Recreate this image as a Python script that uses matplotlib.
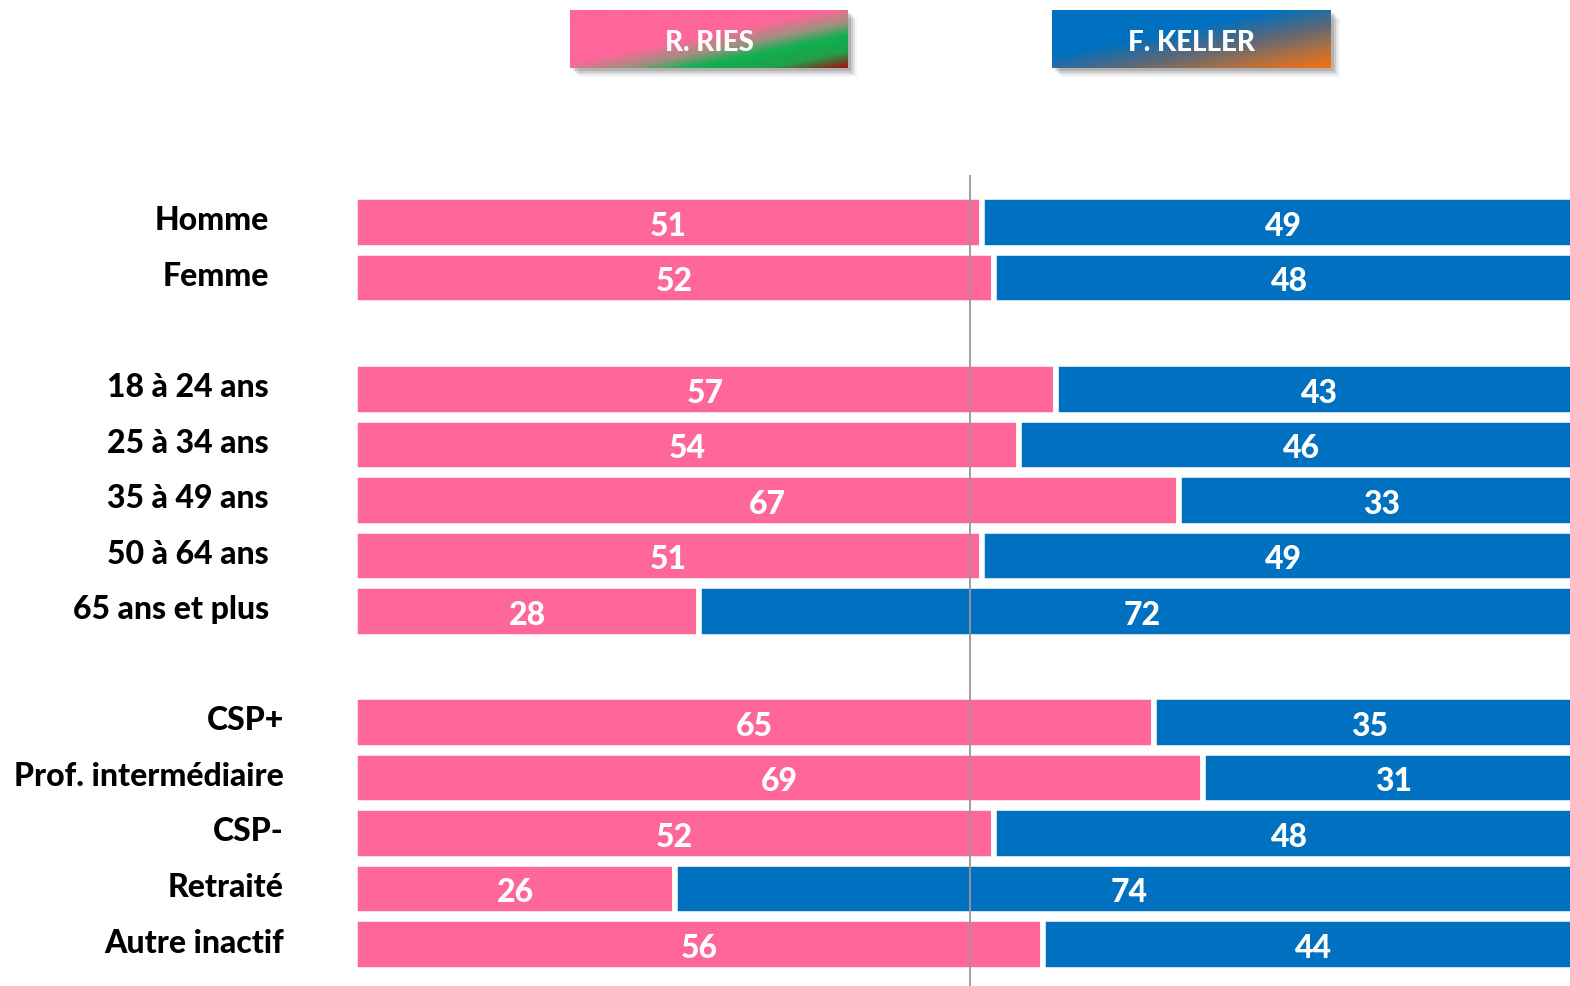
import matplotlib
matplotlib.use("Agg")
import matplotlib.pyplot as plt
import numpy as np
from matplotlib.colors import LinearSegmentedColormap
from matplotlib.patches import Rectangle

# ---- data ----
categories = ["Homme", "Femme",
              "18 à 24 ans", "25 à 34 ans", "35 à 49 ans", "50 à 64 ans", "65 ans et plus",
              "CSP+", "Prof. intermédiaire", "CSP-", "Retraité", "Autre inactif"]
positions = [0, 1, 3, 4, 5, 6, 7, 9, 10, 11, 12, 13]
ries = [51, 52, 57, 54, 67, 51, 28, 65, 69, 52, 26, 56]
keller = [49, 48, 43, 46, 33, 49, 72, 35, 31, 48, 74, 44]
label_group = [0, 0, 1, 1, 1, 1, 1, 2, 2, 2, 2, 2]
candidates = ["R. RIES", "F. KELLER"]

PINK = "#FF6699"
BLUE = "#0070C0"
FONT = ["Lato", "DejaVu Sans"]
WEIGHT = 900

W, H = 1570, 987
fig = plt.figure(figsize=(W / 100, H / 100), dpi=100)

def fx(px):
    return px / W

def fy(py):
    return 1 - py / H

# main axes
ax_left, ax_right = 355.2, 355.2 + 1229
ax_top, ax_bot = 176, 987
ax = fig.add_axes([fx(ax_left), fy(ax_bot), (ax_right - ax_left) / W, (ax_bot - ax_top) / H])
ax.set_xlim(0, 100)
ax.set_ylim(13.774 - 0.03, -0.828 - 0.03)
ax.axis("off")

bh = 0.91
ax.barh(positions, ries, height=bh, color=PINK, edgecolor="white", linewidth=4)
ax.barh(positions, keller, left=ries, height=bh, color=BLUE, edgecolor="white", linewidth=4)
ax.axvline(50, color="#A09590", linewidth=1.3, zorder=5)

for p, r, k in zip(positions, ries, keller):
    ax.text(r / 2, p + 0.05, str(r), ha="center", va="center", color="white",
            fontsize=23, fontweight=WEIGHT, family=FONT, zorder=6)
    ax.text(r + k / 2, p + 0.05, str(k), ha="center", va="center", color="white",
            fontsize=23, fontweight=WEIGHT, family=FONT, zorder=6)

# category labels
label_x = {0: 269, 1: 269, 2: 284}
row_h = 55.54
for c, p, g in zip(categories, positions, label_group):
    ypx = 222 + p * row_h - 1
    fig.text(fx(label_x[g]), fy(ypx), c, ha="right", va="center", fontsize=23,
             fontweight=WEIGHT, family=FONT, color="black")

# legend boxes with gradients
def grad_box(x0, y0, w, h, stops, text):
    # shadow
    for d, a in [(10, 0.04), (8, 0.07), (6, 0.10), (4, 0.12)]:
        sax = fig.add_axes([fx(x0 + d - 1), fy(y0 + h + d - 1), w / W, h / H])
        sax.add_patch(Rectangle((0, 0), 1, 1, color="black", alpha=a, lw=0))
        sax.set_xlim(0, 1); sax.set_ylim(0, 1); sax.axis("off")
    bax = fig.add_axes([fx(x0), fy(y0 + h), w / W, h / H])
    cmap = LinearSegmentedColormap.from_list("g", stops)
    xs = np.linspace(0, 1, 300)
    ys = np.linspace(0, 1, 80)
    X, Y = np.meshgrid(xs, ys)
    T = (X + Y) / 2
    bax.imshow(T, cmap=cmap, extent=[0, 1, 1, 0], aspect="auto", vmin=0, vmax=1,
               interpolation="bilinear")
    bax.set_xlim(0, 1); bax.set_ylim(1, 0); bax.axis("off")
    bax.text(0.5, 0.45, text, ha="center", va="center", color="white", fontsize=20,
             fontweight=WEIGHT, family=FONT, transform=bax.transAxes)

grad_box(570, 11, 278, 58,
         [(0, PINK), (0.46, PINK), (0.6, "#A09080"), (0.72, "#10B050"), (0.86, "#20A048"), (1.0, "#A01010")],
         candidates[0])
grad_box(1052, 11, 279, 58,
         [(0, BLUE), (0.4, BLUE), (0.62, "#5A6878"), (0.8, "#A87048"), (1.0, "#F87010")],
         candidates[1])

fig.savefig("out.png", dpi=100)
